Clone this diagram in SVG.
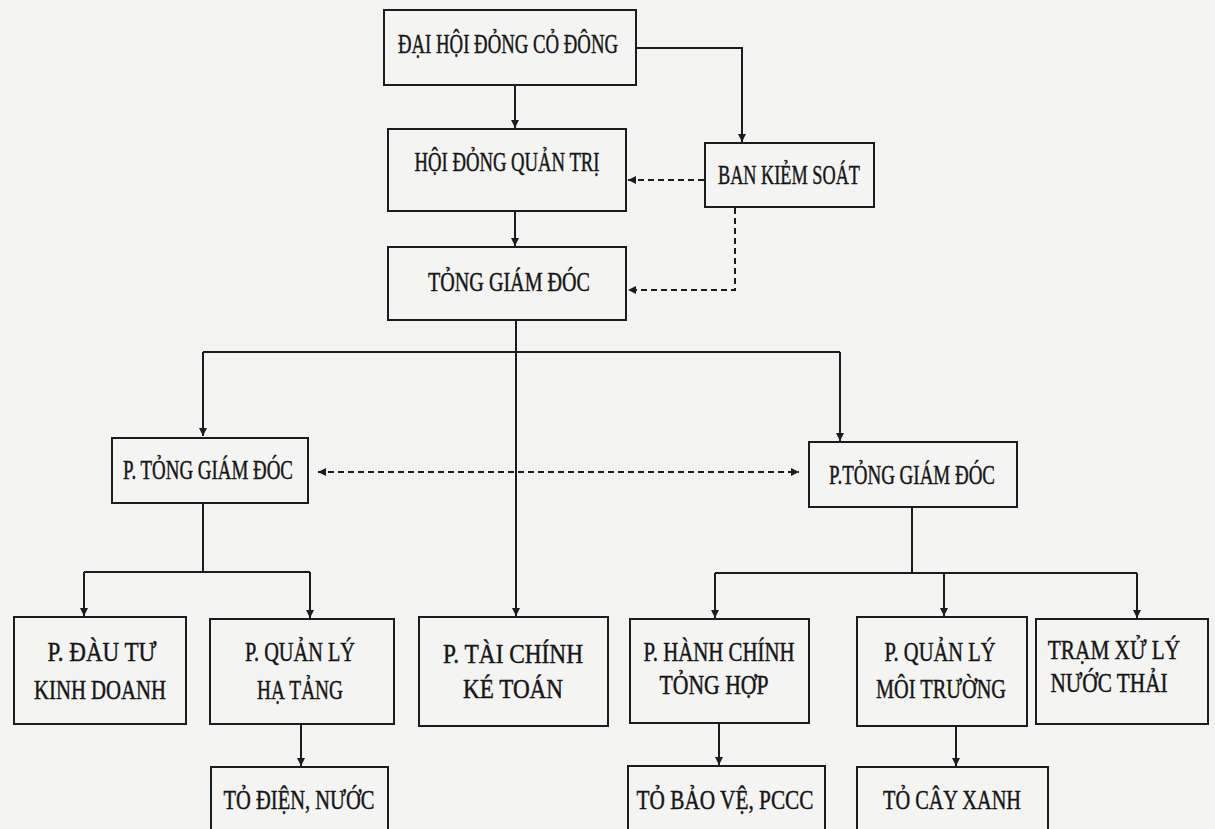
<svg xmlns="http://www.w3.org/2000/svg" width="1215" height="829" viewBox="0 0 1215 829">
<style>
.bg{fill:#f3f3f1}
.box{fill:#f4f4f2;stroke:#1c1c1c;stroke-width:2}
.t{font-family:"Liberation Serif","Times New Roman",serif;fill:#161616;stroke:#161616;stroke-width:0.45;text-anchor:middle;font-size:28px}
.c{fill:none;stroke:#1c1c1c;stroke-width:2}
.a{marker-end:url(#arr)}
.d{stroke-dasharray:6 4}
</style>
<defs>
<marker id="arr" viewBox="0 0 10 10" refX="10" refY="5" markerWidth="9" markerHeight="8" markerUnits="userSpaceOnUse" orient="auto-start-reverse">
<path d="M0,0 L10,5 L0,10 z" fill="#1c1c1c"/>
</marker>
</defs>
<rect class="bg" x="0" y="0" width="1215" height="829"/>

<g id="connectors">
<path class="c a" d="M515,86 V128"/>
<path class="c a" d="M637,48 H742 V142"/>
<path class="c a d" d="M704,180 H628"/>
<path class="c a d" d="M735,208 V290 H628"/>
<path class="c a" d="M515,212 V246"/>
<path class="c a" d="M516,321 V616"/>
<path class="c" d="M203,352 H840"/>
<path class="c a" d="M203,352 V436"/>
<path class="c a" d="M840,352 V441"/>
<path class="c d" d="M318,472 H799" marker-start="url(#arr)" marker-end="url(#arr)"/>
<path class="c" d="M203,504 V572"/>
<path class="c" d="M84,572 H310"/>
<path class="c a" d="M84,572 V616"/>
<path class="c a" d="M310,572 V618"/>
<path class="c a" d="M301,725 V766"/>
<path class="c" d="M912,508 V573"/>
<path class="c" d="M715,573 H1137"/>
<path class="c a" d="M715,573 V618"/>
<path class="c a" d="M944,573 V616"/>
<path class="c a" d="M1137,573 V618"/>
<path class="c a" d="M719,724 V765"/>
<path class="c a" d="M956,727 V766"/>
</g>

<g id="dhdcd"><rect class="box" x="384" y="10" width="252" height="75"/>
<text class="t" x="508" y="53" font-size="29" textLength="220" lengthAdjust="spacingAndGlyphs">ĐẠI HỘI ĐỎNG CỎ ĐÔNG</text></g>

<g id="hdqt"><rect class="box" x="388" y="129" width="238" height="82"/>
<text class="t" x="507" y="171" font-size="28" textLength="185" lengthAdjust="spacingAndGlyphs">HỘI ĐỎNG QUẢN TRỊ</text></g>

<g id="bks"><rect class="box" x="705" y="143" width="169" height="64"/>
<text class="t" x="789" y="184" font-size="26" textLength="142" lengthAdjust="spacingAndGlyphs">BAN KIẺM SOÁT</text></g>

<g id="tgd"><rect class="box" x="388" y="247" width="238" height="73"/>
<text class="t" x="509" y="291" font-size="29" textLength="162" lengthAdjust="spacingAndGlyphs">TỎNG GIÁM ĐÓC</text></g>

<g id="ptgd1"><rect class="box" x="112" y="438" width="196" height="65"/>
<text class="t" x="208" y="479" font-size="26" textLength="170" lengthAdjust="spacingAndGlyphs">P. TỎNG GIÁM ĐÓC</text></g>

<g id="ptgd2"><rect class="box" x="809" y="442" width="208" height="65"/>
<text class="t" x="912" y="484" font-size="26" textLength="166" lengthAdjust="spacingAndGlyphs">P.TỎNG GIÁM ĐÓC</text></g>

<g id="pdautu"><rect class="box" x="14" y="617" width="172" height="107"/>
<text class="t" x="102" y="661" textLength="109" lengthAdjust="spacingAndGlyphs">P. ĐÀU TƯ</text>
<text class="t" x="100" y="699" font-size="26" textLength="132" lengthAdjust="spacingAndGlyphs">KINH DOANH</text></g>

<g id="pqlht"><rect class="box" x="210" y="619" width="184" height="105"/>
<text class="t" x="300" y="661" textLength="110" lengthAdjust="spacingAndGlyphs">P. QUẢN LÝ</text>
<text class="t" x="300" y="699" textLength="86" lengthAdjust="spacingAndGlyphs">HẠ TẢNG</text></g>

<g id="ptckt"><rect class="box" x="419" y="617" width="189" height="109"/>
<text class="t" x="513" y="663" textLength="140" lengthAdjust="spacingAndGlyphs">P. TÀI CHÍNH</text>
<text class="t" x="513" y="698" textLength="100" lengthAdjust="spacingAndGlyphs">KÉ TOÁN</text></g>

<g id="phcth"><rect class="box" x="630" y="619" width="179" height="104"/>
<text class="t" x="719" y="661" font-size="26" textLength="151" lengthAdjust="spacingAndGlyphs">P. HÀNH CHÍNH</text>
<text class="t" x="714" y="694" textLength="109" lengthAdjust="spacingAndGlyphs">TỎNG HỢP</text></g>

<g id="pqlmt"><rect class="box" x="857" y="617" width="170" height="109"/>
<text class="t" x="940" y="661" textLength="111" lengthAdjust="spacingAndGlyphs">P. QUẢN LÝ</text>
<text class="t" x="941" y="698" font-size="26" textLength="130" lengthAdjust="spacingAndGlyphs">MÔI TRƯỜNG</text></g>

<g id="tram"><rect class="box" x="1036" y="619" width="172" height="105"/>
<text class="t" transform="translate(1114,659) scale(0.76,1)" x="0" y="0" font-size="26">TRẠM XỬ LÝ</text>
<text class="t" transform="translate(1109,692) scale(0.76,1)" x="0" y="0" font-size="26">NƯỚC THẢI</text></g>

<g id="todien"><rect class="box" x="211" y="767" width="177" height="80"/>
<text class="t" x="299" y="809" font-size="26" textLength="151" lengthAdjust="spacingAndGlyphs">TỎ ĐIỆN, NƯỚC</text></g>

<g id="tobaove"><rect class="box" x="628" y="766" width="197" height="80"/>
<text class="t" x="725" y="809" font-size="26" textLength="177" lengthAdjust="spacingAndGlyphs">TỎ BẢO VỆ, PCCC</text></g>

<g id="tocayxanh"><rect class="box" x="857" y="767" width="191" height="80"/>
<text class="t" x="952" y="809" textLength="138" lengthAdjust="spacingAndGlyphs">TỎ CÂY XANH</text></g>
</svg>
